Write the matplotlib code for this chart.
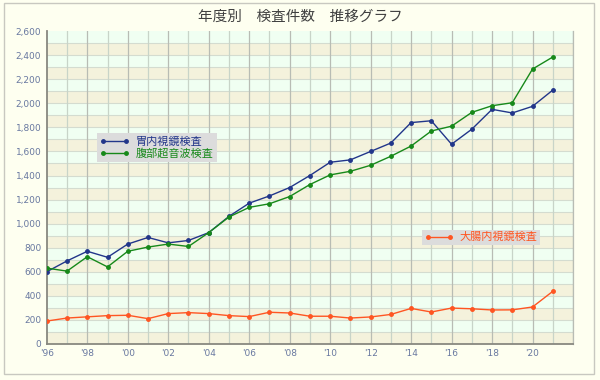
import matplotlib.pyplot as plt
from matplotlib.patches import Rectangle

plt.rcParams['font.family'] = ['Noto Sans CJK JP', 'DejaVu Sans']

years = list(range(1996, 2022))
stomach = [600, 690, 770, 720, 830, 885, 840, 860, 925, 1060, 1170, 1230, 1300,
           1400, 1510, 1530, 1600, 1670, 1840, 1855, 1660, 1785, 1950, 1920, 1975, 2110]
abdomen = [630, 605, 725, 640, 770, 805, 830, 810, 925, 1055, 1135, 1165, 1225,
           1325, 1405, 1435, 1485, 1560, 1645, 1770, 1810, 1925, 1980, 2005, 2285, 2385]
colon = [190, 215, 225, 235, 238, 210, 252, 260, 252, 235, 227, 263, 257,
         230, 230, 215, 224, 245, 295, 265, 298, 292, 282, 283, 307, 437]
tick_years = list(range(1996, 2021, 2))
tick_labels = ["'%02d" % (y % 100) for y in tick_years]
title = "年度別　検査件数　推移グラフ"

fig = plt.figure(figsize=(6, 3.8), dpi=100)
fig.patch.set_facecolor('#fefff0')
fig.patches.append(Rectangle((0.007, 0.016), 0.983, 0.976, transform=fig.transFigure,
                             fill=False, edgecolor='#c8c8c0', linewidth=1))
ax = fig.add_axes([0.078, 0.095, 0.877, 0.823])
ax.set_facecolor('#f0fff2')

# alternating bands every 100
for v in range(0, 2600, 200):
    ax.axhspan(v, v + 100, color='#f4f2dc', zorder=0, linewidth=0)
for v in range(100, 2600, 100):
    ax.axhline(v, color='#d4dcd0', linewidth=0.8, zorder=1)
for y in range(1997, 2023):
    c = '#b8bcb4' if y % 2 == 0 else '#c8d4c8'
    ax.axvline(y, color=c, linewidth=0.9, zorder=1)

l1, = ax.plot(years, stomach, color='#22368a', marker='o', markersize=2.5, linewidth=1, zorder=3)
l2, = ax.plot(years, abdomen, color='#17891a', marker='o', markersize=2.5, linewidth=1, zorder=3)
l3, = ax.plot(years, colon, color='#ff5522', marker='o', markersize=2.5, linewidth=1, zorder=3)

ax.set_xlim(1996, 2022)
ax.set_ylim(0, 2600)
ax.set_yticks(range(0, 2601, 200))
ax.set_yticklabels(['{:,}'.format(v) for v in range(0, 2601, 200)])
ax.set_xticks(tick_years)
ax.set_xticklabels(tick_labels)
ax.tick_params(axis='both', length=0, labelsize=6.5, labelcolor='#6878a0', pad=4)
for lab in ax.get_xticklabels() + ax.get_yticklabels():
    lab.set_family('DejaVu Sans')

for s in ['left', 'bottom']:
    ax.spines[s].set_color('#888880')
    ax.spines[s].set_linewidth(1.3)
ax.spines['top'].set_visible(False)
ax.spines['right'].set_color('#b8bcb4')
ax.spines['right'].set_linewidth(0.9)

fig.text(0.5, 0.955, title, ha='center', va='center', fontsize=10.5, color='#404040')

leg1 = ax.legend([l1, l2], ['胃内視鏡検査', '腹部超音波検査'], loc='upper left',
                 bbox_to_anchor=(0.095, 0.674), borderaxespad=0, numpoints=2,
                 fontsize=8, frameon=True, fancybox=False, facecolor='#dcdcdc',
                 edgecolor='none', framealpha=1, handlelength=2.6,
                 borderpad=0.3, labelspacing=0.15, handletextpad=0.6)
for t, l in zip(leg1.get_texts(), [l1, l2]):
    t.set_color(l.get_color())
ax.add_artist(leg1)

leg2 = ax.legend([l3], ['大腸内視鏡検査'], loc='upper left',
                 bbox_to_anchor=(0.713, 0.364), borderaxespad=0, numpoints=2,
                 fontsize=8, frameon=True, fancybox=False, facecolor='#dcdcdc',
                 edgecolor='none', framealpha=1, handlelength=2.6,
                 borderpad=0.2, handletextpad=0.6)
leg2.get_texts()[0].set_color(l3.get_color())
leg1.set_zorder(5)
leg2.set_zorder(5)

fig.savefig('out.png', dpi=100, facecolor=fig.get_facecolor())
